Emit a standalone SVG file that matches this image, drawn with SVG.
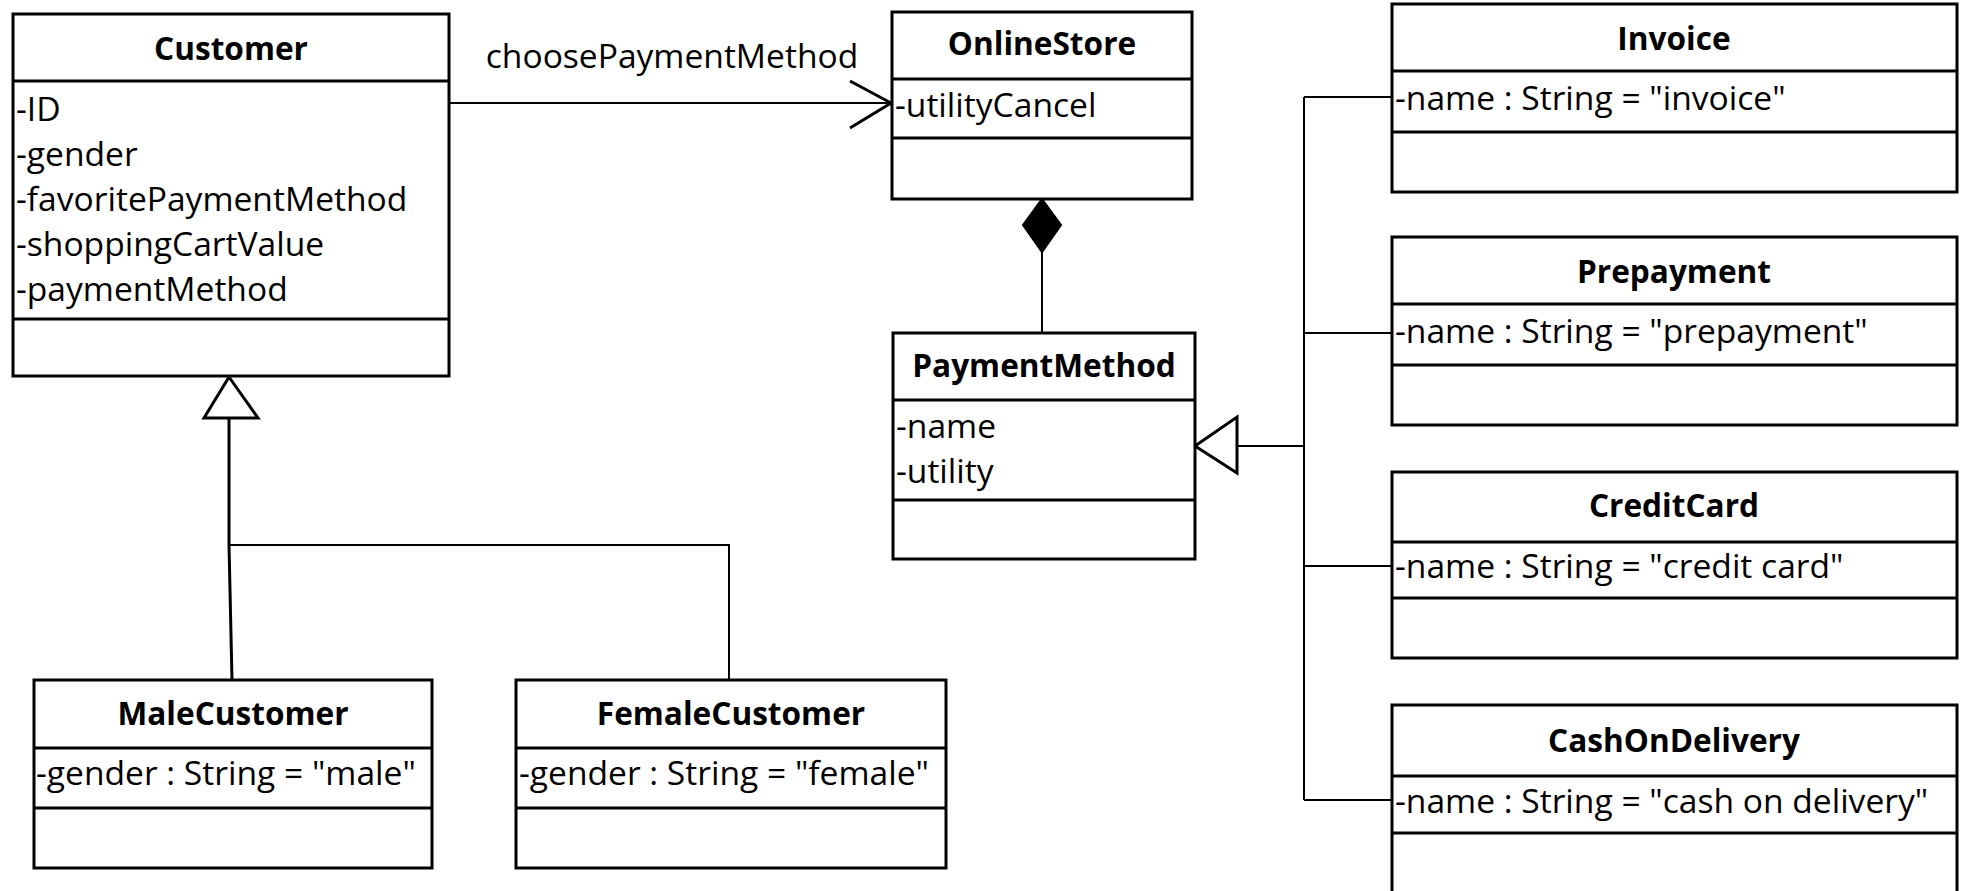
<svg xmlns="http://www.w3.org/2000/svg" width="1964" height="891" viewBox="0 0 1964 891">
<style>
.box{fill:#fff;stroke:#000;stroke-width:3}
.div{stroke:#000;stroke-width:3}
.t{font-family:"Open Sans","Liberation Sans",sans-serif;font-size:33.6px;fill:#000}
.b{font-weight:bold;text-anchor:middle;font-size:31.6px}
.c{fill:none;stroke:#000;stroke-width:2}
</style>
<rect width="1964" height="891" fill="#fff"/>
<g id="connectors">
  <line class="c" x1="449" y1="103" x2="890" y2="103"/>
  <polyline class="c" points="850,81 891,103 850,128" style="stroke-width:3"/>
  <line class="c" x1="1042" y1="252" x2="1042" y2="333"/>
  <polygon points="1042,199 1061,225 1042,252 1023,225" fill="#000" stroke="#000" stroke-width="2"/>
  <polyline class="c" points="229,418 229,545 232,680" style="stroke-width:3"/>
  <polyline class="c" points="229,545 729,545 729,680"/>
  <polygon points="229,377 258,418 204,418" fill="#fff" stroke="#000" stroke-width="3"/>
  <line class="c" x1="1237" y1="446" x2="1304" y2="446"/>
  <line class="c" x1="1304" y1="97" x2="1304" y2="800"/>
  <line class="c" x1="1304" y1="97" x2="1392" y2="97"/>
  <line class="c" x1="1304" y1="333" x2="1392" y2="333"/>
  <line class="c" x1="1304" y1="566" x2="1392" y2="566"/>
  <line class="c" x1="1304" y1="800" x2="1392" y2="800"/>
  <polygon points="1195,446 1237,417 1237,473" fill="#fff" stroke="#000" stroke-width="3"/>
  <text class="t" x="672" y="68" text-anchor="middle">choosePaymentMethod</text>
</g>
<g id="Customer">
  <rect class="box" x="13" y="14" width="436" height="362"/>
  <line class="div" x1="13" y1="81" x2="449" y2="81"/>
  <line class="div" x1="13" y1="319" x2="449" y2="319"/>
  <text class="t b" x="231" y="60">Customer</text>
  <text class="t" x="16" y="121">-ID</text>
  <text class="t" x="16" y="166">-gender</text>
  <text class="t" x="16" y="211">-favoritePaymentMethod</text>
  <text class="t" x="16" y="256">-shoppingCartValue</text>
  <text class="t" x="16" y="301">-paymentMethod</text>
</g>
<g id="OnlineStore">
  <rect class="box" x="892" y="12" width="300" height="187"/>
  <line class="div" x1="892" y1="79" x2="1192" y2="79"/>
  <line class="div" x1="892" y1="138" x2="1192" y2="138"/>
  <text class="t b" x="1042" y="55">OnlineStore</text>
  <text class="t" x="895" y="117">-utilityCancel</text>
</g>
<g id="PaymentMethod">
  <rect class="box" x="893" y="333" width="302" height="226"/>
  <line class="div" x1="893" y1="400" x2="1195" y2="400"/>
  <line class="div" x1="893" y1="500" x2="1195" y2="500"/>
  <text class="t b" x="1044" y="377">PaymentMethod</text>
  <text class="t" x="896" y="438">-name</text>
  <text class="t" x="896" y="483">-utility</text>
</g>
<g id="MaleCustomer">
  <rect class="box" x="34" y="680" width="398" height="188"/>
  <line class="div" x1="34" y1="748" x2="432" y2="748"/>
  <line class="div" x1="34" y1="808" x2="432" y2="808"/>
  <text class="t b" x="233" y="725">MaleCustomer</text>
  <text class="t" x="36" y="785">-gender : String = "male"</text>
</g>
<g id="FemaleCustomer">
  <rect class="box" x="516" y="680" width="430" height="188"/>
  <line class="div" x1="516" y1="748" x2="946" y2="748"/>
  <line class="div" x1="516" y1="808" x2="946" y2="808"/>
  <text class="t b" x="731" y="725">FemaleCustomer</text>
  <text class="t" x="519" y="785">-gender : String = "female"</text>
</g>
<g id="Invoice">
  <rect class="box" x="1392" y="4" width="565" height="188"/>
  <line class="div" x1="1392" y1="71" x2="1957" y2="71"/>
  <line class="div" x1="1392" y1="132" x2="1957" y2="132"/>
  <text class="t b" x="1674" y="50">Invoice</text>
  <text class="t" x="1395" y="110">-name : String = "invoice"</text>
</g>
<g id="Prepayment">
  <rect class="box" x="1392" y="237" width="565" height="188"/>
  <line class="div" x1="1392" y1="304" x2="1957" y2="304"/>
  <line class="div" x1="1392" y1="365" x2="1957" y2="365"/>
  <text class="t b" x="1674" y="283">Prepayment</text>
  <text class="t" x="1395" y="343">-name : String = "prepayment"</text>
</g>
<g id="CreditCard">
  <rect class="box" x="1392" y="472" width="565" height="186"/>
  <line class="div" x1="1392" y1="542" x2="1957" y2="542"/>
  <line class="div" x1="1392" y1="598" x2="1957" y2="598"/>
  <text class="t b" x="1674" y="517">CreditCard</text>
  <text class="t" x="1395" y="578">-name : String = "credit card"</text>
</g>
<g id="CashOnDelivery">
  <rect class="box" x="1392" y="705" width="565" height="200"/>
  <line class="div" x1="1392" y1="776" x2="1957" y2="776"/>
  <line class="div" x1="1392" y1="833" x2="1957" y2="833"/>
  <text class="t b" x="1674" y="752">CashOnDelivery</text>
  <text class="t" x="1395" y="813">-name : String = "cash on delivery"</text>
</g>
</svg>
